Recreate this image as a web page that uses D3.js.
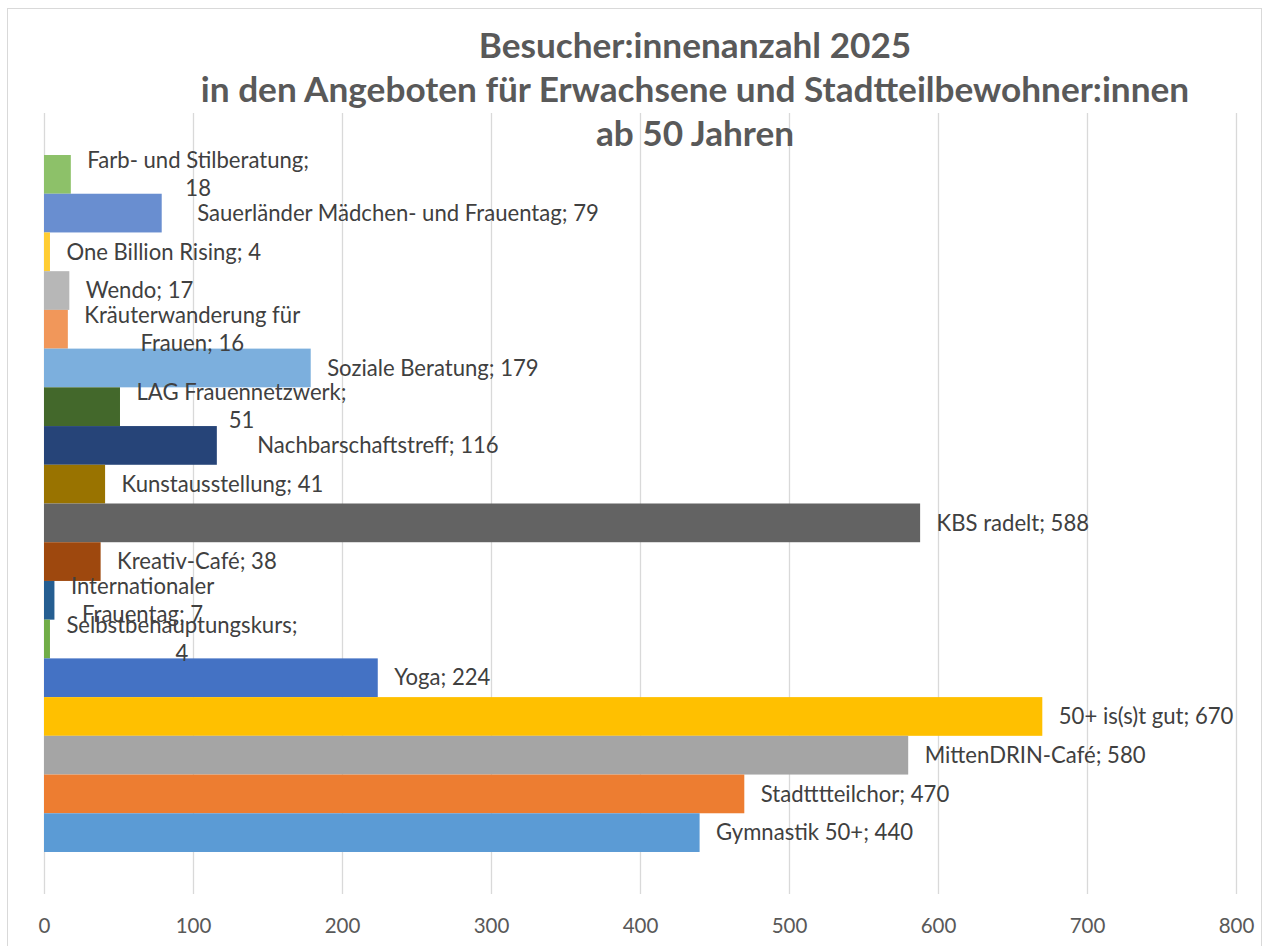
<!DOCTYPE html>
<html>
<head>
<meta charset="utf-8">
<script src="https://cdn.jsdelivr.net/npm/d3@7"></script>
<style>
  html, body { margin: 0; padding: 0; background: #ffffff; }
  svg { display: block; }
</style>
</head>
<body>
<script>
// ---------------- data ----------------
const titleLines = [
  "Besucher:innenanzahl 2025",
  "in den Angeboten für Erwachsene und Stadtteilbewohner:innen",
  "ab 50 Jahren"
];
const categories = [
  "Farb- und Stilberatung",
  "Sauerländer Mädchen- und Frauentag",
  "One Billion Rising",
  "Wendo",
  "Kräuterwanderung für Frauen",
  "Soziale Beratung",
  "LAG Frauennetzwerk",
  "Nachbarschaftstreff",
  "Kunstausstellung",
  "KBS radelt",
  "Kreativ-Café",
  "Internationaler Frauentag",
  "Selbstbehauptungskurs",
  "Yoga",
  "50+ is(s)t gut",
  "MittenDRIN-Café",
  "Stadtttteilchor",
  "Gymnastik 50+"
];
const values = [18, 79, 4, 17, 16, 179, 51, 116, 41, 588, 38, 7, 4, 224, 670, 580, 470, 440];
// first line of labels that Excel wrapped onto two lines (null = single line)
const wrapFirstLine = [
  "Farb- und Stilberatung;", null, null, null, "Kräuterwanderung für",
  null, "LAG Frauennetzwerk;", null, null, null, null,
  "Internationaler", "Selbstbehauptungskurs;", null, null, null, null, null
];
const colors = [
  "#8dc169", "#698ed0", "#ffcd33", "#b7b7b7", "#f1975a", "#7cafdd",
  "#43682b", "#264478", "#997300", "#636363", "#9e480e", "#255e91",
  "#70ad47", "#4472c4", "#ffc000", "#a5a5a5", "#ed7d31", "#5b9bd5"
];
const xTicks = [0, 100, 200, 300, 400, 500, 600, 700, 800];

// ---------------- layout ----------------
const W = 1269, H = 946;
const font = "Lato, 'Open Sans', sans-serif";
const plot = { left: 44, right: 1236, top: 113, bottom: 894 };
// extra horizontal gap (px) of a few labels whose label boxes sit further from the bar end
const labelExtraGap = { "Sauerländer Mädchen- und Frauentag": 19, "Nachbarschaftstreff": 24 };

const svg = d3.select("body").append("svg")
  .attr("width", W).attr("height", H);

svg.append("rect").attr("width", W).attr("height", H).attr("fill", "#fff");
svg.append("rect")
  .attr("x", 7.5).attr("y", 8.5).attr("width", 1254).attr("height", 960)
  .attr("fill", "none").attr("stroke", "#d9d9d9").attr("stroke-width", 1);

const x = d3.scaleLinear().domain([0, 800]).range([plot.left, plot.right]);
const y = d3.scaleBand().domain(categories).range([plot.top, plot.bottom])
  .paddingInner(0).paddingOuter(1.085);

// grid
svg.append("g").selectAll("line").data(xTicks).join("line")
  .attr("x1", d => Math.round(x(d)) + 0.5).attr("x2", d => Math.round(x(d)) + 0.5)
  .attr("y1", plot.top).attr("y2", plot.bottom)
  .attr("stroke", "#d9d9d9").attr("stroke-width", 1.3);

// axis (labels only)
const axis = svg.append("g").attr("transform", `translate(0,${plot.bottom})`)
  .call(d3.axisBottom(x).tickValues(xTicks).tickSize(0).tickPadding(0));
axis.select(".domain").remove();
axis.selectAll("text")
  .attr("y", 32).attr("dy", "0.35em")
  .attr("fill", "#595959")
  .style("font-family", font).style("font-size", "20.5px");

// bars
const data = categories.map((c, i) => ({ c, v: values[i], col: colors[i], wrap: wrapFirstLine[i] }));
svg.append("g").selectAll("rect").data(data).join("rect")
  .attr("x", x(0))
  .attr("y", d => y(d.c))
  .attr("width", d => x(d.v) - x(0))
  .attr("height", y.bandwidth())
  .attr("fill", d => d.col);

// labels
const lblG = svg.append("g")
  .style("font-family", font).style("font-size", "22.1px").attr("fill", "#404040");
data.forEach(d => {
  const full = `${d.c}; ${d.v}`;
  const cy = y(d.c) + y.bandwidth() / 2;
  const left = x(d.v) + 16.5 + (labelExtraGap[d.c] || 0);
  if (!d.wrap) {
    lblG.append("text").attr("x", left).attr("y", cy).attr("dy", "0.35em").text(full);
  } else {
    const lines = [d.wrap, full.slice(d.wrap.length).trim()];
    const ts = lines.map((t, k) => lblG.append("text")
      .attr("y", cy + (k === 0 ? -14 : 14)).attr("dy", "0.35em")
      .attr("text-anchor", "middle").text(t));
    const maxW = d3.max(ts, t => t.node().getComputedTextLength());
    ts.forEach(t => t.attr("x", left + maxW / 2));
  }
});

// title
svg.append("g").selectAll("text").data(titleLines).join("text")
  .attr("x", 695).attr("y", (d, i) => 58 + i * 44)
  .attr("text-anchor", "middle")
  .attr("fill", "#595959")
  .style("font-family", font).style("font-weight", "bold").style("font-size", "35.2px")
  .text(d => d);
</script>
</body>
</html>
